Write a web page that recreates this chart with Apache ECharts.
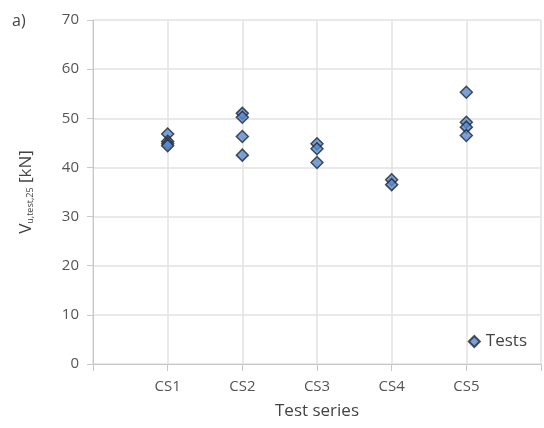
<!DOCTYPE html>
<html>
<head>
<meta charset="utf-8">
<script src="https://cdn.jsdelivr.net/npm/echarts@6/dist/echarts.min.js"></script>
<style>
html,body{margin:0;padding:0;background:#fff;}
#c{width:544px;height:428px;}
</style>
</head>
<body>
<div id="c"></div>
<script>
var categories = ['CS1', 'CS2', 'CS3', 'CS4', 'CS5'];
var cs1 = [46.8, 45.3, 44.8, 44.4];
var cs2 = [51.0, 50.2, 46.3, 42.5];
var cs3 = [44.8, 43.8, 41.0];
var cs4 = [37.5, 36.5];
var cs5 = [55.3, 49.2, 48.2, 46.5];
var yTicks = [0, 10, 20, 30, 40, 50, 60, 70];

var groups = [cs1, cs2, cs3, cs4, cs5];
var points = [];
groups.forEach(function (g, i) {
  g.forEach(function (v) { points.push([i + 1, v]); });
});

var font = 'Open Sans';
var chart = echarts.init(document.getElementById('c'), null, {renderer: 'canvas'});
chart.setOption({
  animation: false,
  backgroundColor: '#ffffff',
  textStyle: {fontFamily: font},
  graphic: [{
    type: 'text', left: 12, top: 13,
    style: {text: 'a)', fontSize: 16, fill: '#444', fontFamily: font}
  }],
  grid: {left: 93, right: 1, top: 20, bottom: 64},
  legend: {
    right: 12, top: 328,
    icon: 'diamond', itemWidth: 11, itemHeight: 11, itemGap: 4,
    textStyle: {fontSize: 17, color: '#444', fontFamily: font, padding: [0, 0, 0, 1]},
    data: ['Tests']
  },
  xAxis: {
    type: 'value', min: 0, max: categories.length + 1, interval: 1,
    name: 'Test series', nameLocation: 'middle', nameGap: 39,
    nameTextStyle: {fontSize: 17, color: '#444', fontFamily: font},
    axisLine: {show: true, lineStyle: {color: '#c8c8c8', width: 1}},
    axisTick: {show: true, length: 7, lineStyle: {color: '#c8c8c8'}},
    splitLine: {show: true, lineStyle: {color: '#e2e2e2', width: 1.5}},
    axisLabel: {
      fontSize: 15, color: '#555', margin: 15, fontFamily: font,
      formatter: function (v) { return categories[v - 1] || ''; }
    }
  },
  yAxis: {
    type: 'value', min: yTicks[0], max: yTicks[yTicks.length - 1], interval: 10,
    name: '{v|V}{s|u,test,25}{n| [kN]}', nameLocation: 'middle', nameGap: 58, nameRotate: 90,
    nameTextStyle: {
      color: '#444', fontFamily: font,
      rich: {
        v: {fontSize: 17, color: '#444', fontFamily: font, verticalAlign: 'bottom', lineHeight: 22},
        s: {fontSize: 9, color: '#444', fontFamily: font, verticalAlign: 'bottom', lineHeight: 15},
        n: {fontSize: 17, color: '#444', fontFamily: font, verticalAlign: 'bottom', lineHeight: 22}
      }
    },
    axisLine: {show: true, lineStyle: {color: '#c8c8c8', width: 1}},
    axisTick: {show: true, inside: false, length: 6, lineStyle: {color: '#c8c8c8'}},
    splitLine: {show: true, lineStyle: {color: '#e2e2e2', width: 1.5}},
    axisLabel: {fontSize: 15, color: '#555', margin: 14, fontFamily: font}
  },
  series: [{
    name: 'Tests',
    type: 'scatter',
    symbol: 'diamond',
    symbolSize: 12,
    itemStyle: {color: '#5a8acb', borderColor: '#1d2838', borderWidth: 1.5},
    data: points
  }]
});
</script>
</body>
</html>
